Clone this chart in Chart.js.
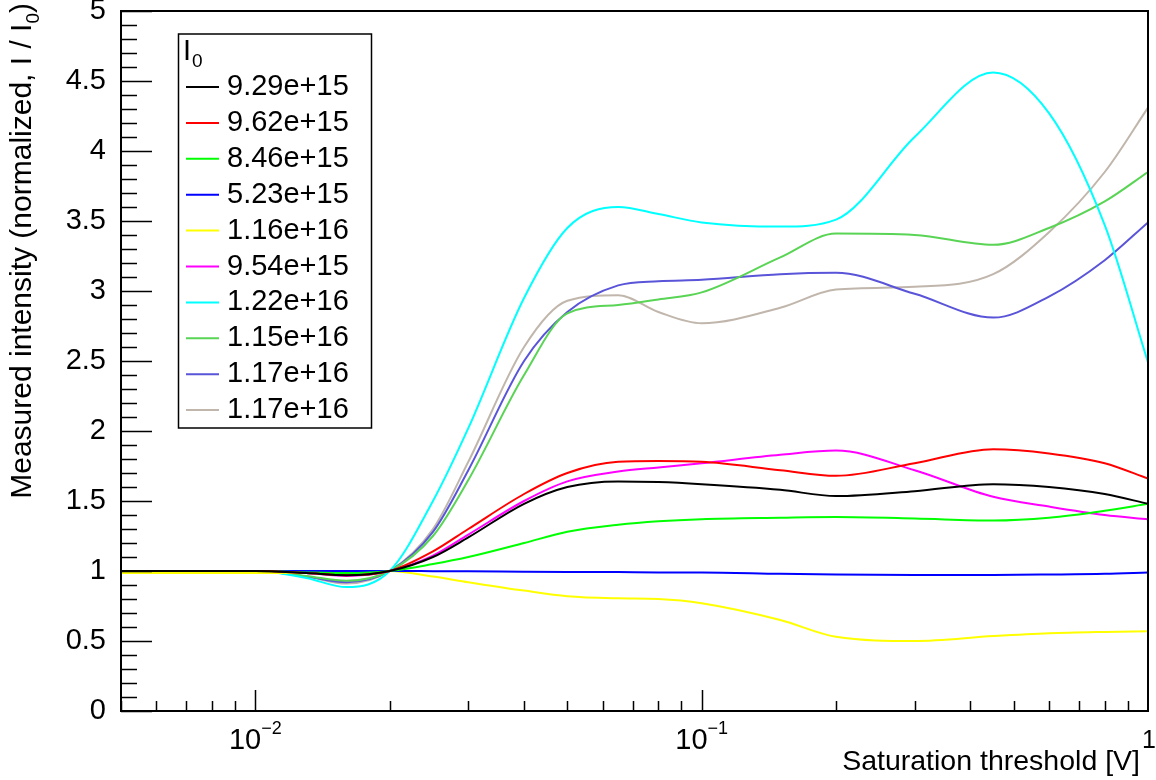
<!DOCTYPE html>
<html>
<head>
<meta charset="utf-8">
<script src="https://cdn.jsdelivr.net/npm/chart.js@4.4.1/dist/chart.umd.min.js"></script>
<style>
  html, body { margin: 0; padding: 0; background: #fff; }
</style>
</head>
<body>
<canvas id="satChart" width="1156" height="780"></canvas>
<script>
// saturation threshold [V] where each curve was sampled
const thresholds = [0.005, 0.01, 0.013, 0.016, 0.02, 0.025, 0.03, 0.04, 0.05, 0.065, 0.08, 0.1, 0.15, 0.2, 0.3, 0.45, 0.6, 0.8, 1.0];

// normalized intensity I / I0, one array per I0
const i929e15 = [1, 1, 0.985, 0.97, 1, 1.10, 1.24, 1.48, 1.60, 1.64, 1.635, 1.62, 1.58, 1.535, 1.57, 1.62, 1.60, 1.55, 1.48];
const i962e15 = [1, 1, 0.985, 0.97, 1, 1.14, 1.30, 1.55, 1.70, 1.78, 1.785, 1.78, 1.72, 1.68, 1.77, 1.87, 1.84, 1.77, 1.66];
const i846e15 = [1, 1, 0.99, 0.985, 1, 1.05, 1.10, 1.20, 1.28, 1.33, 1.355, 1.37, 1.38, 1.385, 1.375, 1.36, 1.38, 1.43, 1.48];
const i523e15 = [1, 1, 1, 1, 1, 0.999, 0.998, 0.995, 0.993, 0.992, 0.99, 0.99, 0.98, 0.975, 0.972, 0.972, 0.975, 0.98, 0.99];
const i116e16 = [0.985, 0.985, 0.99, 0.995, 1, 0.96, 0.92, 0.86, 0.82, 0.805, 0.80, 0.77, 0.65, 0.53, 0.50, 0.535, 0.555, 0.565, 0.57];
const i954e15 = [1, 1, 0.985, 0.965, 1, 1.11, 1.26, 1.50, 1.64, 1.71, 1.74, 1.77, 1.83, 1.86, 1.72, 1.53, 1.46, 1.40, 1.37];
const i122e16 = [1, 1, 0.95, 0.885, 1, 1.50, 2.02, 2.95, 3.45, 3.60, 3.55, 3.49, 3.46, 3.51, 4.10, 4.56, 4.27, 3.47, 2.49];
const i115e16 = [1, 1, 0.965, 0.93, 1, 1.25, 1.65, 2.40, 2.84, 2.90, 2.94, 2.99, 3.24, 3.41, 3.40, 3.33, 3.45, 3.64, 3.85];
const i117e16a = [1, 1, 0.96, 0.92, 1, 1.28, 1.72, 2.50, 2.85, 3.04, 3.07, 3.08, 3.12, 3.13, 2.98, 2.81, 2.96, 3.22, 3.49];
const i117e16b = [1, 1, 0.96, 0.91, 1, 1.30, 1.78, 2.60, 2.93, 2.97, 2.85, 2.77, 2.88, 3.01, 3.03, 3.12, 3.42, 3.85, 4.31];

const seriesLabels = ['9.29e+15', '9.62e+15', '8.46e+15', '5.23e+15', '1.16e+16', '9.54e+15', '1.22e+16', '1.15e+16', '1.17e+16', '1.17e+16'];
const seriesValues = [i929e15, i962e15, i846e15, i523e15, i116e16, i954e15, i122e16, i115e16, i117e16a, i117e16b];
const seriesColors = ['#000000', '#ff0000', '#00ff00', '#0000ff', '#ffff00', '#ff00ff', '#00ffff', '#59d454', '#5954d8', '#c0b6ac'];

// x axis labels (base + exponent)
const xTickValues = [0.01, 0.1, 1];
const xTickBase = ['10', '10', '1'];
const xTickExp = ['\u22122', '\u22121', ''];

const FONT = '"Liberation Sans", Arial, Helvetica, sans-serif';

const rootStyle = {
    id: 'rootStyle',
    afterDatasetsDraw(chart) {
        const {ctx, chartArea: a, scales: {x, y}} = chart;
        ctx.save();
        ctx.strokeStyle = '#000';
        ctx.lineWidth = 2;
        ctx.strokeRect(a.left, a.top, a.right - a.left, a.bottom - a.top);

        // inward ticks like ROOT
        ctx.lineWidth = 1.5;
        ctx.beginPath();
        for (let k = 0; k <= 50; k++) {
            const py = Math.round(y.getPixelForValue(k / 10)) + 0.5;
            const len = k % 5 === 0 ? 31 : 16;
            ctx.moveTo(a.left, py);
            ctx.lineTo(a.left + len, py);
        }
        for (const dec of [0.001, 0.01, 0.1]) {
            for (let m = 1; m <= 9; m++) {
                const v = m * dec;
                if (v < x.min * 0.999 || v > x.max * 1.001) continue;
                const px = Math.round(x.getPixelForValue(v)) + 0.5;
                const len = m === 1 ? 21 : 10;
                ctx.moveTo(px, a.bottom);
                ctx.lineTo(px, a.bottom - len);
            }
        }
        ctx.stroke();

        // legend box
        ctx.fillStyle = '#fff';
        ctx.fillRect(178, 34, 194, 394);
        ctx.lineWidth = 1.5;
        ctx.strokeRect(178.5, 34, 193, 394);
        ctx.fillStyle = '#000';
        ctx.textBaseline = 'alphabetic';
        ctx.textAlign = 'left';
        ctx.font = '29px ' + FONT;
        ctx.fillText('I', 183, 60);
        const wI = ctx.measureText('I').width;
        ctx.font = '19px ' + FONT;
        ctx.fillText('0', 183 + wI + 1, 67);
        ctx.font = '29px ' + FONT;
        chart.data.datasets.forEach((ds, i) => {
            const ly = 87 + i * 35.9;
            ctx.strokeStyle = ds.borderColor;
            ctx.lineWidth = 2;
            ctx.beginPath();
            ctx.moveTo(186, ly);
            ctx.lineTo(219, ly);
            ctx.stroke();
            ctx.fillText(ds.label, 227, ly + 8);
        });
        ctx.restore();
    },
    afterDraw(chart) {
        const {ctx, scales: {x}} = chart;
        ctx.save();
        ctx.fillStyle = '#000';
        ctx.textBaseline = 'alphabetic';

        // x tick labels with superscript exponents
        xTickValues.forEach((v, i) => {
            const px = x.getPixelForValue(v);
            if (xTickExp[i]) {
                ctx.font = '29px ' + FONT;
                const wb = ctx.measureText(xTickBase[i]).width;
                ctx.font = '18px ' + FONT;
                const we = ctx.measureText(xTickExp[i]).width;
                const start = px - (wb + we) / 2;
                ctx.textAlign = 'left';
                ctx.font = '29px ' + FONT;
                ctx.fillText(xTickBase[i], start, 749);
                ctx.font = '18px ' + FONT;
                ctx.fillText(xTickExp[i], start + wb, 734);
            } else {
                ctx.font = '25px ' + FONT;
                ctx.textAlign = 'center';
                ctx.fillText(xTickBase[i], px + 1, 748);
            }
        });

        // x title
        ctx.font = '28.5px ' + FONT;
        ctx.textAlign = 'right';
        ctx.fillText('Saturation threshold [V]', 1140, 770);

        // y title, rotated, ending near the top
        const part1 = 'Measured intensity (normalized, I / I';
        ctx.font = '30px ' + FONT;
        const w1 = ctx.measureText(part1).width;
        const w2 = ctx.measureText(')').width;
        ctx.font = '19px ' + FONT;
        const w0 = ctx.measureText('0').width;
        const total = w1 + w0 + w2;
        ctx.translate(31, 3 + total);
        ctx.rotate(-Math.PI / 2);
        ctx.textAlign = 'left';
        ctx.font = '30px ' + FONT;
        ctx.fillText(part1, 0, 0);
        ctx.font = '19px ' + FONT;
        ctx.fillText('0', w1, 8);
        ctx.font = '30px ' + FONT;
        ctx.fillText(')', w1 + w0, 0);
        ctx.restore();
    }
};

const datasets = seriesValues.map((vals, i) => ({
    label: seriesLabels[i],
    data: thresholds.map((t, j) => ({x: t, y: vals[j]})),
    borderColor: seriesColors[i],
    backgroundColor: seriesColors[i],
    borderWidth: 2,
    pointRadius: 0,
    cubicInterpolationMode: 'monotone',
    fill: false
}));

const ctx = document.getElementById('satChart').getContext('2d');
const chart = new Chart(ctx, {
    type: 'line',
    data: { datasets },
    options: {
        responsive: false,
        animation: false,
        devicePixelRatio: 1,
        events: [],
        layout: { padding: { top: 11, right: 8, left: 0, bottom: 0 } },
        plugins: { legend: { display: false }, tooltip: { enabled: false } },
        scales: {
            x: {
                type: 'logarithmic',
                min: 0.005,
                max: 1,
                grid: { display: false },
                border: { display: false },
                ticks: { display: false },
                afterFit: s => { s.height = 69; s.paddingLeft = 0; s.paddingRight = 0; }
            },
            y: {
                type: 'linear',
                min: 0,
                max: 5,
                grid: { display: false },
                border: { display: false },
                ticks: {
                    stepSize: 0.5,
                    color: '#000',
                    padding: 7,
                    font: { size: 29, family: FONT },
                    callback: v => String(v)
                },
                afterFit: s => { s.width = 121; s.paddingTop = 0; s.paddingBottom = 0; }
            }
        }
    },
    plugins: [rootStyle]
});
</script>
</body>
</html>
